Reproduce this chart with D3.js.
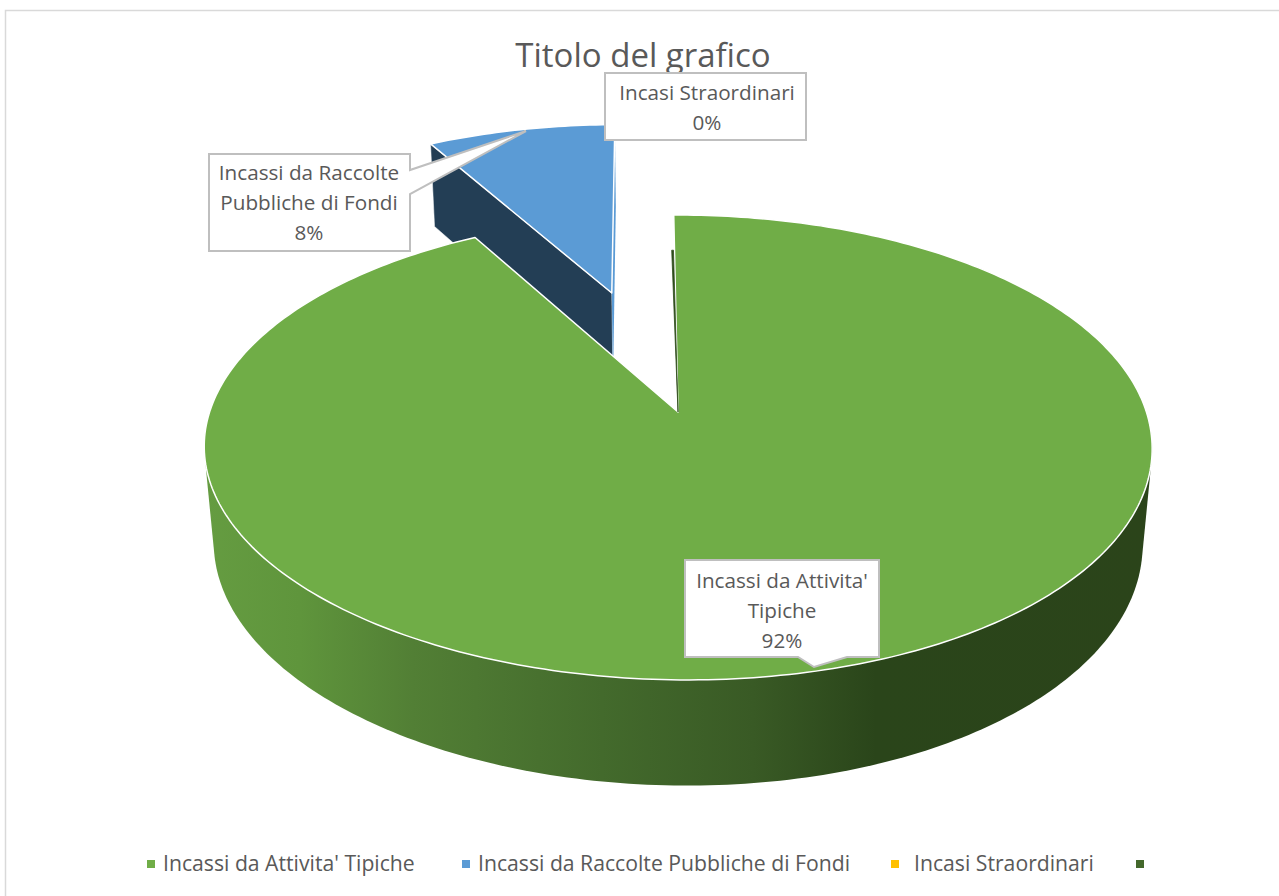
<!DOCTYPE html>
<html>
<head>
<meta charset="utf-8">
<script src="https://cdn.jsdelivr.net/npm/d3@7"></script>
<style>
  html, body { margin: 0; background: #fff; }
  svg { display: block; }
  text { font-family: "Open Sans", sans-serif; fill: #595959; }
</style>
</head>
<body>
<svg id="chart" width="1279" height="896"></svg>
<script>
// Chart values
const chartTitle = "Titolo del grafico";
const categories = ["Incassi da Attivita' Tipiche", "Incassi da Raccolte Pubbliche di Fondi", "Incasi Straordinari", ""];
const seriesValues = [92, 7.95, 0, 0.05];
const explosion = [0, 0.59, 0.59, 0];

// Styles
const topColors = ["#70ad47", "#5b9bd5", "#ffc000", "#2f4c1c"];
const legendColors = ["#70ad47", "#5b9bd5", "#ffc000", "#43682b"];
const legendX = [151, 466, 895, 1140];
const legendTextX = [163, 478, 914];

const svg = d3.select("#chart");

// Perspective: the pie is a real disc seen from above, so near edge is bigger than far edge.
// skew pushes the near edge a little to the right, as in the original.
const view = { cx: 678, cy: 412, rx: 468.4, ry: 227, k: 0.1527, drop: 97, shrink: 0.02, skew: 8 };

function project(X, Y, z) {
  const w = 1 - view.k * Y + view.shrink * z;
  const front = Math.max(0, Y);
  return [view.cx + (view.rx * X + view.skew * front * front) / w, view.cy + (view.ry * Y + view.drop * z) / w];
}

const firstAngle = -0.6 * Math.PI / 180;
const pie = d3.pie().sort(null).startAngle(firstAngle).endAngle(firstAngle + 2 * Math.PI);
const slices = pie(seriesValues).map((d, i) => {
  const mid = (d.startAngle + d.endAngle) / 2;
  return { ...d, i, dx: explosion[i] * Math.sin(mid), dy: -explosion[i] * Math.cos(mid) };
});

function apex(s, z) { return project(s.dx, s.dy, z); }
function rim(s, a, z, r = 1) { return project(s.dx + r * Math.sin(a), s.dy - r * Math.cos(a), z); }
function rimPoints(s, a0, a1, z, r = 1) {
  const n = Math.max(2, Math.ceil(Math.abs(a1 - a0) * 60));
  return d3.range(n + 1).map(j => rim(s, a0 + (a1 - a0) * j / n, z, r));
}
const path = d3.line();
const closed = pts => path(pts) + "Z";

// Gradient of the front wall
const grad = svg.append("defs").append("linearGradient")
  .attr("id", "wall").attr("gradientUnits", "userSpaceOnUse")
  .attr("x1", 205).attr("x2", 1150).attr("y1", 0).attr("y2", 0);
[[0, "#659c41"], [0.1, "#5f953c"], [0.22, "#527f35"], [0.42, "#436a2c"], [0.58, "#395a25"], [0.71, "#2a451a"], [1, "#2b441a"]]
  .forEach(([o, c]) => grad.append("stop").attr("offset", o).attr("stop-color", c));

// Chart frame
svg.append("path").attr("d", "M5.5,896V10.5H1279").attr("fill", "none").attr("stroke", "#d9d9d9").attr("stroke-width", 1.5);

const green = slices[0], blue = slices[1], sliver = slices[3];

// Blue slice: far wall, right wall, top
svg.append("path")
  .attr("d", closed([apex(blue, 0), rim(blue, blue.startAngle, 0), rim(blue, blue.startAngle, 1), apex(blue, 1)]))
  .attr("fill", "#233e55").attr("stroke", "#fff").attr("stroke-width", 0.5);
svg.append("path")
  .attr("d", closed([apex(blue, 0), rim(blue, blue.endAngle, 0), rim(blue, blue.endAngle, 1), apex(blue, 1)]))
  .attr("fill", "#5b9bd5");
svg.append("path")
  .attr("d", closed([apex(blue, 0), ...rimPoints(blue, blue.startAngle, blue.endAngle, 0)]))
  .attr("fill", topColors[1]).attr("stroke", "#fff").attr("stroke-width", 1.5).attr("stroke-linejoin", "round");

// Green slice: round wall (hull of both rims, so the straight side edges come out), top, thin dark slice
const deg = Math.PI / 180;
const wallPts = [...rimPoints(green, 95 * deg, 265 * deg, 0), ...rimPoints(green, 95 * deg, 265 * deg, 1)];
svg.append("path")
  .attr("d", closed(d3.polygonHull(wallPts)))
  .attr("fill", "url(#wall)");
svg.append("path")
  .attr("d", closed([apex(green, 0), ...rimPoints(green, green.startAngle, green.endAngle, 0)]))
  .attr("fill", topColors[0]).attr("stroke", "#fff").attr("stroke-width", 1.5).attr("stroke-linejoin", "round");
svg.append("path")
  .attr("d", closed([apex(sliver, 0), ...rimPoints(sliver, sliver.startAngle - 0.3 * deg, sliver.startAngle, 0, 0.8)]))
  .attr("fill", topColors[3]).attr("stroke", topColors[3]).attr("stroke-width", 0.8);

// Title
svg.append("text").attr("x", 643).attr("y", 67).attr("text-anchor", "middle")
  .style("font-size", "33px").text(chartTitle);

// Callouts
const total = d3.sum(seriesValues);
const pct = i => Math.round(seriesValues[i] / total * 100) + "%";
const callouts = [
  { i: 0, lines: ["Incassi da Attivita'", "Tipiche"], outline: [[685, 560], [879, 560], [879, 657], [847, 657], [814, 667], [798, 657], [685, 657]], tx: 782, ty: [588, 618, 648] },
  { i: 1, lines: ["Incassi da Raccolte", "Pubbliche di Fondi"], outline: [[209, 154], [410, 154], [410, 170], [526, 131], [410, 194], [410, 251], [209, 251]], tx: 309, ty: [180, 210, 240] },
  { i: 2, lines: ["Incasi Straordinari"], outline: [[605, 73], [806, 73], [806, 140], [605, 140]], tx: 707, ty: [100, 130] }
];
callouts.forEach(c => {
  svg.append("path").attr("d", closed(c.outline))
    .attr("fill", "#fff").attr("stroke", "#bfbfbf").attr("stroke-width", 2);
  [...c.lines, pct(c.i)].forEach((t, j) => {
    svg.append("text").attr("x", c.tx).attr("y", c.ty[j]).attr("text-anchor", "middle")
      .style("font-size", "20.7px").text(t);
  });
});

// Legend
categories.forEach((name, i) => {
  svg.append("rect").attr("x", legendX[i] - 4).attr("y", 860).attr("width", 8).attr("height", 8)
    .attr("fill", legendColors[i]);
  if (name) svg.append("text").attr("x", legendTextX[i]).attr("y", 871)
    .style("font-size", "21.2px").text(name);
});
</script>
</body>
</html>
